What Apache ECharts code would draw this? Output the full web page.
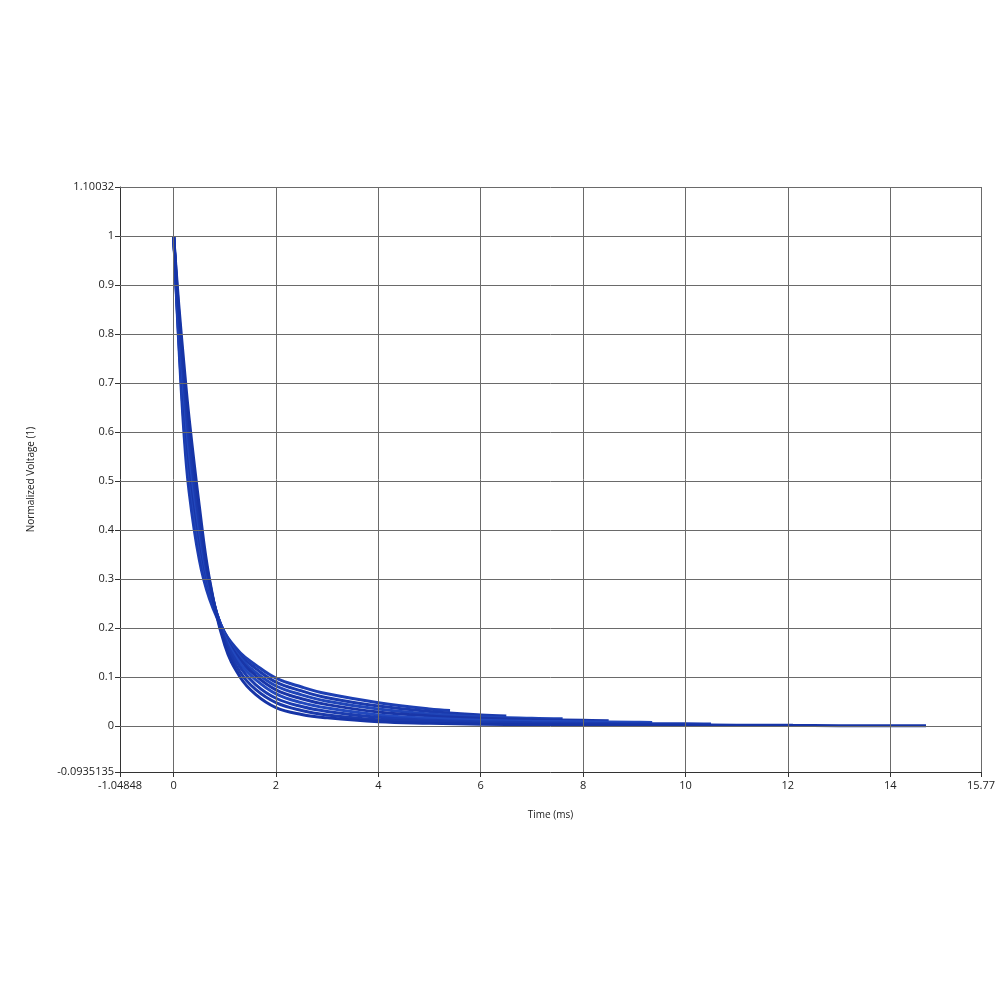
<!DOCTYPE html>
<html>
<head>
<meta charset="utf-8">
<script src="https://cdn.jsdelivr.net/npm/echarts@6/dist/echarts.min.js"></script>
<style>
  html, body { margin: 0; padding: 0; background: #fff; }
  #chart { width: 1000px; height: 1000px; }
</style>
</head>
<body>
<div id="chart"></div>
<script>
// sample times (ms) shared by all curves
var times = [0, 0.1, 0.2, 0.3, 0.5, 0.7, 1.0, 1.3, 1.6, 2, 2.5, 3, 4, 5, 6, 7, 8, 9, 10, 11, 12, 13, 14];

// normalized voltage, heaviest tail first
var curve0 = [1, 0.78, 0.60, 0.48, 0.34, 0.26, 0.19, 0.15, 0.125, 0.098, 0.080, 0.066, 0.048, 0.035];
var curve1 = [1, 0.79, 0.62, 0.50, 0.355, 0.27, 0.19, 0.145, 0.118, 0.090, 0.072, 0.058, 0.041, 0.030, 0.023];
var curve2 = [1, 0.80, 0.64, 0.52, 0.37, 0.275, 0.188, 0.14, 0.11, 0.082, 0.064, 0.051, 0.035, 0.025, 0.019, 0.016];
var curve3 = [1, 0.81, 0.66, 0.54, 0.385, 0.28, 0.186, 0.135, 0.103, 0.074, 0.056, 0.044, 0.029, 0.021, 0.016, 0.013, 0.012];
var curve4 = [1, 0.82, 0.68, 0.56, 0.40, 0.285, 0.183, 0.128, 0.095, 0.066, 0.048, 0.037, 0.023, 0.016, 0.012, 0.010, 0.009, 0.008];
var curve5 = [1, 0.83, 0.70, 0.585, 0.415, 0.29, 0.178, 0.12, 0.085, 0.057, 0.040, 0.030, 0.018, 0.012, 0.009, 0.007, 0.006, 0.005, 0.005];
var curve6 = [1, 0.845, 0.72, 0.61, 0.43, 0.295, 0.172, 0.11, 0.075, 0.048, 0.032, 0.023, 0.013, 0.009, 0.006, 0.0045, 0.0035, 0.003, 0.0025, 0.002, 0.0018];
var curve7 = [1, 0.86, 0.74, 0.63, 0.45, 0.30, 0.165, 0.10, 0.065, 0.038, 0.024, 0.017, 0.009, 0.006, 0.004, 0.003, 0.0025, 0.002, 0.0017, 0.0015, 0.0013, 0.0011, 0.001];
var curves = [curve0, curve1, curve2, curve3, curve4, curve5, curve6, curve7];

// where each curve stops
var endTimes = [5.4, 6.5, 7.6, 8.5, 9.35, 10.5, 12.1, 14.7];
var endValues = [0.032, 0.021, 0.015, 0.011, 0.0075, 0.0045, 0.0017, 0.001];

// axis ticks
var xTicks = [-1.04848, 0, 2, 4, 6, 8, 10, 12, 14, 15.7748];
var xTickLabels = ['-1.04848', '0', '2', '4', '6', '8', '10', '12', '14', '15.77'];
var yTicks = [-0.0935135, 0, 0.1, 0.2, 0.3, 0.4, 0.5, 0.6, 0.7, 0.8, 0.9, 1, 1.10032];
var yTickLabels = ['-0.0935135', '0', '0.1', '0.2', '0.3', '0.4', '0.5', '0.6', '0.7', '0.8', '0.9', '1', '1.10032'];

var colors = ['#1d3fb3', '#1a3aad', '#2045b8', '#1936a8', '#2248bd', '#1b3cb0', '#1a39ab', '#1634a6'];

var myChart = echarts.init(document.getElementById('chart'));

function labelFor(values, labels) {
  return function (v) {
    for (var i = 0; i < values.length; i++) {
      if (Math.abs(values[i] - v) < 1e-6) return labels[i];
    }
    return '';
  };
}

var series = curves.map(function (vals, k) {
  var data = vals.map(function (v, i) { return [times[i], v]; });
  data.push([endTimes[k], endValues[k]]);
  return {
    type: 'line',
    data: data,
    smooth: 0.4,
    showSymbol: false,
    lineStyle: { color: colors[k], width: 3 },
    z: 3
  };
});

// grid lines drawn at tick positions
var gridLines = [];
xTicks.slice(1).forEach(function (v) { gridLines.push({ xAxis: v }); });
yTicks.slice(1).forEach(function (v) { gridLines.push({ yAxis: v }); });
series.unshift({
  type: 'line',
  data: [],
  markLine: {
    silent: true,
    symbol: 'none',
    label: { show: false },
    lineStyle: { color: '#6a6a6a', width: 1, type: 'solid' },
    data: gridLines
  },
  z: 1
});

var option = {
  backgroundColor: '#fff',
  animation: false,
  grid: { left: 120, right: 19, top: 187, bottom: 228 },
  xAxis: {
    type: 'value',
    min: -1.04848,
    max: 15.7748,
    name: 'Time (ms)',
    nameLocation: 'middle',
    nameGap: 38,
    nameTextStyle: { fontFamily: 'Open Sans', fontSize: 10, color: '#222' },
    axisLine: { show: true, onZero: false, lineStyle: { color: '#333', width: 1 } },
    axisTick: { show: true, length: 5, lineStyle: { color: '#333' }, customValues: xTicks },
    axisLabel: {
      fontFamily: 'Open Sans', fontSize: 11, color: '#222', margin: 8,
      customValues: xTicks,
      formatter: labelFor(xTicks, xTickLabels)
    },
    splitLine: { show: false }
  },
  yAxis: {
    type: 'value',
    min: -0.0935135,
    max: 1.10032,
    name: 'Normalized Voltage (1)',
    nameLocation: 'middle',
    nameGap: 84,
    nameRotate: 90,
    nameTextStyle: { fontFamily: 'Open Sans', fontSize: 10, color: '#222' },
    axisLine: { show: true, onZero: false, lineStyle: { color: '#333', width: 1 } },
    axisTick: { show: true, length: 5, lineStyle: { color: '#333' }, customValues: yTicks },
    axisLabel: {
      fontFamily: 'Open Sans', fontSize: 11, color: '#222', margin: 6,
      customValues: yTicks,
      formatter: labelFor(yTicks, yTickLabels)
    },
    splitLine: { show: false }
  },
  series: series
};

myChart.setOption(option);
window.addEventListener('resize', function () {
  myChart.resize();
});
</script>
</body>
</html>
